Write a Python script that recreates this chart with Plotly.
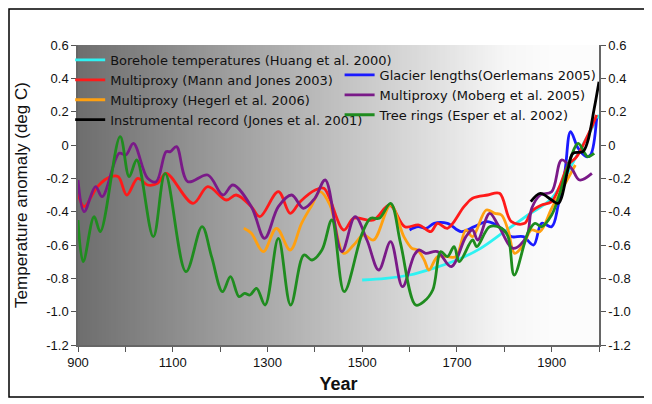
import numpy as np
import plotly.graph_objects as go

# Borehole temperatures (Huang et al. 2000)
borehole_years = [1500, 1550, 1600, 1650, 1700, 1750, 1800, 1850, 1900, 1950, 2000]
borehole_vals = [-0.81, -0.80, -0.78, -0.74, -0.69, -0.62, -0.52, -0.42, -0.32, -0.08, 0.18]

# Multiproxy (Mann and Jones 2003)
mann_years = [900, 913, 941, 969, 985, 1003, 1026, 1047, 1068, 1086, 1143, 1174, 1213, 1234,
              1266, 1284, 1323, 1348, 1369, 1401, 1419, 1461, 1482, 1524, 1558, 1590, 1620,
              1645, 1659, 1680, 1715, 1733, 1765, 1790, 1815, 1843, 1857, 1879, 1900, 1918,
              1935, 1953, 1970, 1985, 1995]
mann_vals = [-0.29, -0.37, -0.25, -0.19, -0.19, -0.30, -0.20, -0.24, -0.23, -0.17, -0.35, -0.25,
             -0.33, -0.30, -0.37, -0.43, -0.28, -0.41, -0.34, -0.27, -0.26, -0.51, -0.44, -0.45,
             -0.36, -0.49, -0.48, -0.52, -0.47, -0.50, -0.37, -0.32, -0.30, -0.29, -0.46, -0.47,
             -0.40, -0.36, -0.34, -0.24, -0.12, -0.07, 0.02, 0.11, 0.18]

# Multiproxy (Hegerl et al. 2006)
hegerl_years = [1250, 1266, 1291, 1319, 1348, 1372, 1394, 1411, 1432, 1461, 1482, 1503, 1524,
                1560, 1588, 1605, 1617, 1631, 1641, 1659, 1680, 1698, 1719, 1733, 1762, 1780,
                1794, 1808, 1822, 1840, 1857, 1875, 1900, 1925, 1950]
hegerl_vals = [-0.50, -0.53, -0.64, -0.50, -0.63, -0.47, -0.36, -0.28, -0.36, -0.65, -0.60,
               -0.54, -0.57, -0.36, -0.55, -0.62, -0.63, -0.69, -0.75, -0.67, -0.67, -0.67,
               -0.51, -0.55, -0.39, -0.41, -0.42, -0.51, -0.65, -0.60, -0.51, -0.52, -0.38,
               -0.25, -0.12]

# Instrumental record (Jones et al. 2001)
instr_years = [1856, 1876, 1900, 1914, 1935, 1945, 1966, 1976, 1990, 2000]
instr_vals = [-0.34, -0.29, -0.33, -0.35, -0.14, -0.05, -0.04, 0.02, 0.22, 0.38]

# Glacier lengths (Oerlemans 2005)
glacier_years = [1600, 1618, 1635, 1652, 1680, 1709, 1737, 1765, 1794, 1815, 1840, 1862, 1879,
                 1900, 1914, 1928, 1940, 1956, 1973, 1982, 1995]
glacier_vals = [-0.51, -0.49, -0.50, -0.47, -0.47, -0.52, -0.49, -0.46, -0.50, -0.55, -0.55,
                -0.60, -0.47, -0.49, -0.36, -0.16, 0.08, -0.02, -0.07, -0.06, 0.16]

# Multiproxy (Moberg et al. 2005)
moberg_years = [900, 913, 937, 951, 987, 1001, 1017, 1047, 1065, 1086, 1095, 1108, 1132, 1174,
                1206, 1227, 1266, 1294, 1323, 1351, 1376, 1400, 1422, 1457, 1485, 1510, 1535,
                1560, 1585, 1610, 1620, 1634, 1659, 1688, 1719, 1733, 1744, 1769, 1787, 1819,
                1847, 1858, 1876, 1900, 1921, 1942, 1959, 1985]
moberg_vals = [-0.21, -0.40, -0.25, -0.31, -0.05, -0.06, 0.01, -0.20, -0.22, -0.04, -0.04, -0.01,
               -0.22, -0.18, -0.30, -0.24, -0.37, -0.56, -0.37, -0.30, -0.38, -0.32, -0.21,
               -0.64, -0.43, -0.57, -0.75, -0.58, -0.85, -0.66, -0.63, -0.65, -0.64, -0.73,
               -0.55, -0.51, -0.57, -0.41, -0.48, -0.62, -0.55, -0.38, -0.30, -0.28, -0.09,
               -0.14, -0.21, -0.17]

# Tree rings (Esper et al. 2002)
esper_years = [900, 911, 934, 947, 989, 1008, 1024, 1059, 1084, 1128, 1162, 1182, 1205, 1222,
               1240, 1252, 1263, 1277, 1295, 1323, 1349, 1377, 1394, 1415, 1436, 1462, 1500,
               1518, 1536, 1560, 1581, 1613, 1630, 1649, 1666, 1680, 1694, 1705, 1733, 1742,
               1769, 1794, 1808, 1821, 1851, 1865, 1879, 1900, 1914, 1935, 1956, 1970, 1976,
               1990]
esper_vals = [-0.45, -0.70, -0.43, -0.52, 0.05, -0.19, -0.09, -0.55, -0.17, -0.76, -0.49, -0.67,
              -0.88, -0.79, -0.91, -0.89, -0.90, -0.86, -0.96, -0.56, -0.96, -0.66, -0.69,
              -0.63, -0.45, -0.88, -0.53, -0.44, -0.44, -0.35, -0.59, -0.96, -0.94, -0.87,
              -0.64, -0.67, -0.61, -0.70, -0.57, -0.61, -0.49, -0.50, -0.55, -0.78, -0.52,
              -0.47, -0.49, -0.42, -0.32, -0.12, 0.01, -0.05, -0.07, -0.05]

y_tick_vals = [0.6, 0.4, 0.2, 0, -0.2, -0.4, -0.6, -0.8, -1.0, -1.2]
y_tick_text = ["0.6", "0.4", "0.2", "0", "-0.2", "-0.4", "-0.6", "-0.8", "-1.0", "-1.2"]

# the page body adds an 8px margin, so the figure is a little smaller than the window
W, H = 644, 396
L, R, T, B = 70, 53, 37, 59
pw, ph = W - L - R, H - T - B

fig = go.Figure()

# grey-to-white gradient behind the plot area
edges = np.linspace(900, 2000, 221)
shade = np.clip((edges[:-1] - 900) / 1000.0, 0, 1)
fig.add_trace(go.Heatmap(
    x=edges, y=[-1.2, 0.6], z=[shade],
    colorscale=[[0, "#6e6e6e"], [0.9, "#f6f6f6"], [1, "#fcfcfc"]], zmin=0, zmax=1,
    showscale=False, hoverinfo="skip", showlegend=False,
))

series = [
    ("Borehole temperatures (Huang et al. 2000)", borehole_years, borehole_vals, "#2ef2f2", "legend", 1),
    ("Glacier lengths(Oerlemans 2005)", glacier_years, glacier_vals, "#1a1aff", "legend2", 5),
    ("Multiproxy (Mann and Jones 2003)", mann_years, mann_vals, "#ff1a1a", "legend", 2),
    ("Multiproxy (Hegerl et al. 2006)", hegerl_years, hegerl_vals, "#ffa010", "legend", 3),
    ("Multiproxy (Moberg et al. 2005)", moberg_years, moberg_vals, "#7a1a88", "legend2", 6),
    ("Tree rings (Esper et al. 2002)", esper_years, esper_vals, "#1f8c1f", "legend2", 7),
    ("Instrumental record (Jones et al. 2001)", instr_years, instr_vals, "#000000", "legend", 4),
]
for name, xs, ys, color, leg, rank in series:
    fig.add_trace(go.Scatter(
        x=xs, y=ys, name=name, mode="lines",
        line=dict(color=color, width=2.8, shape="spline", smoothing=1.0),
        legend=leg, legendrank=rank,
        yaxis="y2" if name.startswith("Instrumental") else "y",
    ))

axis_font = dict(family="Liberation Sans, Arial", size=13, color="#111111")
legend_font = dict(family="DejaVu Sans", size=13, color="#111111")

fig.update_layout(
    width=W, height=H,
    margin=dict(l=L, r=R, t=T, b=B),
    paper_bgcolor="white", plot_bgcolor="white",
    font=dict(family="Liberation Sans, Arial", color="#111111"),
    xaxis=dict(
        range=[900, 2000], tick0=900, dtick=200,
        ticks="outside", ticklen=5, tickcolor="#555555",
        minor=dict(dtick=100, tick0=900, ticks="outside", ticklen=5, tickcolor="#555555"),
        showgrid=False, zeroline=False,
        showline=True, linecolor="#666666", linewidth=1.5,
        tickfont=axis_font,
        title=dict(text="<b>Year</b>", font=dict(family="Liberation Sans, Arial", size=18),
                   standoff=8),
    ),
    yaxis=dict(
        range=[-1.2, 0.6], tickvals=y_tick_vals, ticktext=y_tick_text,
        ticks="outside", ticklen=5, tickcolor="#555555",
        showgrid=False, zeroline=False,
        showline=True, linecolor="#666666", linewidth=1.5,
        tickfont=axis_font,
        title=dict(text="Temperature anomaly (deg C)",
                   font=dict(family="Liberation Sans, Arial", size=17), standoff=14),
    ),
    yaxis2=dict(
        range=[-1.2, 0.6], tickvals=y_tick_vals, ticktext=y_tick_text,
        overlaying="y", side="right",
        ticks="outside", ticklen=5, tickcolor="#555555",
        showgrid=False, zeroline=False,
        showline=True, linecolor="#666666", linewidth=1.5,
        tickfont=axis_font,
    ),
    legend=dict(
        x=-0.015, y=1.0, xanchor="left", yanchor="top",
        bgcolor="rgba(0,0,0,0)", font=legend_font,
        tracegroupgap=0, itemwidth=30,
    ),
    legend2=dict(
        x=1.005, y=0.95, xanchor="right", yanchor="top",
        bgcolor="rgba(0,0,0,0)", font=legend_font,
        tracegroupgap=0, itemwidth=30,
    ),
    shapes=[dict(
        type="rect", xref="paper", yref="paper",
        x0=-(L - 1) / pw, x1=(637 - L) / pw, y0=-(389 - (T + ph)) / ph, y1=(T - 1) / ph + 1,
        line=dict(color="black", width=1.5), fillcolor="rgba(0,0,0,0)", layer="above",
    )],
)

fig.write_html("out.html")
